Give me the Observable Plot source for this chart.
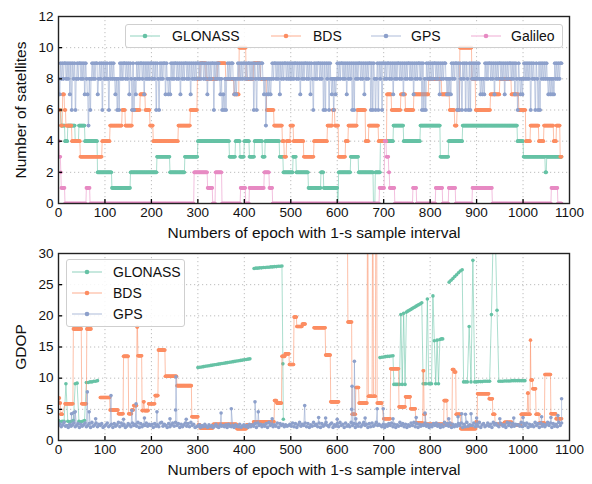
<!DOCTYPE html>
<html><head><meta charset="utf-8">
<script src="https://cdn.jsdelivr.net/npm/d3@7"></script>
<script src="https://cdn.jsdelivr.net/npm/@observablehq/plot@0.6"></script>
<style>
body{margin:0;background:#fff;font-family:"Liberation Sans",Arial,sans-serif;}
#wrap{position:relative;width:592px;height:484px;overflow:hidden;}
#wrap svg{display:block;}
.legend{position:absolute;border:1px solid #cfcfcf;border-radius:3px;background:rgba(255,255,255,0.85);font-size:14px;color:#111;box-sizing:border-box;}
.item{position:absolute;height:18px;line-height:18px;white-space:nowrap;}
.item svg{position:absolute;top:0;}
</style></head><body><div id="wrap"></div>
<script>
// ---------- tick values ----------
const xTicks = [0,100,200,300,400,500,600,700,800,900,1000,1100];
const satTicks = [0,2,4,6,8,10,12];
const gdopTicks = [0,5,10,15,20,25,30];
const systems = ["GLONASS","BDS","GPS","Galileo"];
const colors = ["#66c2a5","#fc8d62","#8da0cb","#e78ac3"];
const lastEpoch = 1083;
const xLabel = "Numbers of epoch with 1-s sample interval";

// ---------- number of satellites: [startEpoch, value] runs ----------
const glonassSat = [[0,6],[6,5],[14,4],[20,5],[36,4],[44,5],[57,4],[84,2],[115,1],[155,2],[212,3],[240,2],[272,3],[300,4],[368,3],[381,4],[391,3],[400,4],[411,3],[422,4],[439,3],[445,4],[476,3],[484,2],[505,3],[512,2],[538,1],[565,2],[571,1],[601,0],[603,2],[629,3],[646,2],[678,0],[682,2],[693,4],[721,5],[743,4],[779,5],[822,3],[840,4],[870,5],[988,4],[1001,3],[1048,2],[1051,3]];
const bdsSat = [[0,6],[5,5],[9,7],[13,6],[16,5],[29,4],[47,3],[94,4],[111,5],[137,6],[144,5],[159,6],[176,7],[187,6],[197,5],[204,4],[258,5],[284,6],[299,8],[305,9],[318,8],[342,9],[360,8],[378,7],[389,10],[404,8],[420,9],[435,8],[448,6],[464,5],[482,4],[486,3],[491,4],[499,5],[506,4],[528,3],[550,4],[579,5],[590,6],[595,5],[603,3],[618,4],[624,5],[643,6],[661,4],[668,5],[689,4],[707,7],[717,6],[737,7],[747,6],[765,7],[797,8],[825,7],[842,6],[853,5],[858,6],[864,10],[890,8],[898,6],[930,7],[950,8],[975,7],[991,6],[1006,4],[1016,5],[1034,4],[1045,5],[1066,4],[1072,5],[1080,3]];
const galileoSat = [[0,4],[2,3],[5,2],[6,1],[14,0],[60,1],[68,0],[292,2],[321,1],[332,0],[338,2],[352,0],[392,1],[403,0],[411,1],[443,2],[454,1],[461,0],[691,1],[702,4],[706,3],[711,2],[713,1],[724,0],[763,1],[771,0],[812,1],[827,0],[840,1],[855,0],[891,1],[934,0],[1061,1],[1075,0]];
// GPS: one digit per 2 epochs (one row = 100 epochs)
const gpsSatCodes =
  "87"+"989899898979"+"69896"+"898998989798"+"75868"+"98989978989698" +
  "98986989898"+"7868"+"6989899898979"+"869687"+"9898998979898989" +
  "9898"+"96986"+"98989979"+"8787"+"98989989897989899898979898989" +
  "98989989897989899"+"6"+"989898"+"78676868"+"989899"+"87878"+"9898989" +
  "9898998989"+"6986"+"989899"+"878578787"+"898998989798989989898" +
  "989899898979898998989798"+"6"+"9898998989"+"696989698"+"786878" +
  "989899898979898"+"96969"+"898998989798989"+"969698689698969" +
  "9898998989"+"7989899898"+"9798989989"+"8979898998"+"9"+"69686"+"9898" +
  "989899898979898998"+"78787"+"989899"+"6969869896986969"+"89898" +
  "9898"+"78787"+"9898998989"+"7989899898"+"9798989989"+"89798"+"6"+"98"+"787" +
  "8"+"9898989"+"6"+"9898"+"6986969"+"898989"+"87878787"+"98989899";

// ---------- GDOP ----------
// GLONASS: [startEpoch, step, values]
const glonassGdop = [
  [0,4,[3.2,3.0,3.1,3.1,9.1,3.1,3.0,3.1,3.2,9.1,9.2,3.1,3.0,3.1,3.2,9.3,9.3,9.4,9.4,9.5,9.5,9.6]],
  [300,4,[11.7,11.75,11.8,11.85,11.9,11.95,12.0,12.05,12.1,12.15,12.2,12.25,12.3,12.35,12.4,12.45,12.5,12.55,12.6,12.65,12.7,12.75,12.8,12.85,12.9,12.95,13.0,13.05,13.1]],
  [421,4,[27.6,27.65,27.65,27.7,27.7,27.75,27.75,27.8,27.8,27.85,27.85,27.9,27.9,27.95,27.95,28.0]],
  [483,1,[12.3,3.4]],
  [692,4,[13.3,13.35,13.4,13.45,13.5,13.5,13.55,13.6]],
  [722,3,[9.0,9.0,9.0,9.0,9.0,20.2,9.0,20.4,9.0,20.6,20.75,20.9,21.0,21.15,21.3,21.4,21.55,21.7,21.8,21.95,22.1,9.1,9.1,9.1,22.7,9.1,9.1,9.1,23.2,16.0,9.1,16.1,9.1,16.2,16.3,16.3]],
  [841,4,[25.4,25.7,26.0,26.3,26.6,26.9,27.2,27.4]],
  [872,4,[9.4,9.4,9.4,18.3,9.4,28.9,9.4,9.4,9.45,9.45,9.45,9.5,9.5,9.5,9.5,20.2,34,34,20.9,9.5,9.5,9.5,9.55,9.55,9.55,9.55,9.6,9.6,9.6,9.6,9.6,9.6,9.6,9.6]]
];
// BDS: [startEpoch, endEpoch (exclusive), value]
const bdsGdop = [[0,3,6.8],[3,5,6.0],[5,9,4.2],[14,32,5.9],[32,50,17.9],[50,61,5.9],[61,71,17.9],[90,111,6.9],[111,129,4.9],[129,140,4.3],[140,151,13.5],[151,158,4.3],[158,162,4.9],[162,169,5.6],[169,171,18.2],[171,180,13.6],[180,183,4.8],[183,185,6.2],[185,194,4.8],[194,208,5.9],[208,215,7.2],[215,230,14.5],[230,255,10.3],[255,287,8.8],[287,301,3.8],[301,305,2.5],[305,333,2.0],[333,384,2.6],[384,405,1.9],[405,420,2.5],[420,465,3.0],[465,470,6.4],[470,481,6.0],[481,488,13.5],[488,497,13.9],[497,507,12.2],[507,513,19.8],[513,525,18.3],[525,532,18.7],[550,575,18.1],[575,586,13.7],[586,604,6.2],[621,623,35],[623,632,19.0],[632,640,4.2],[640,647,8.5],[647,665,6.0],[665,667,35],[667,676,7.1],[676,678,35],[678,683,7.1],[683,686,35],[686,697,6.0],[700,715,3.5],[715,733,11.5],[733,747,5.4],[747,758,7.0],[758,769,5.1],[769,785,2.8],[785,787,11.2],[787,790,4.2],[790,830,2.6],[830,837,6.4],[837,848,2.6],[848,852,11.4],[852,856,11.0],[856,866,4.2],[866,899,1.9],[899,902,3.0],[902,927,7.5],[927,935,6.7],[935,940,4.2],[940,960,2.6],[960,977,2.9],[977,996,2.5],[996,1010,4.2],[1010,1012,7.6],[1012,1016,4.2],[1016,1017,16.1],[1017,1021,9.7],[1021,1028,8.3],[1028,1035,4.2],[1035,1047,2.8],[1047,1060,10.6],[1060,1071,4.3],[1071,1084,3.5]];
// GPS: baseline, one digit per 3 epochs = tenths above 2.0 (one row = 100 epochs), plus spikes
const gpsGdopCodes =
  "472593416358247163582471935826471" + "358246173592846137528463917254836" +
  "461735289364172583947162583729461" + "235142631524136215342516324153261" +
  "352416253718462537194625381746253" + "463827159364827153946281735942681" +
  "537294618352947163825946172835946" + "426153748261539472615384927163548" +
  "361527483615294738162537481629354" + "482639157248361957428635194827365" +
  "539274816352947183625948173629485";
const gpsGdopSpikes = [[28,4.3],[33,4.5],[36,4.6],[62,7.8],[66,4.6],[80,3.5],[113,7.2],[140,3.4],[158,4.8],[167,5.9],[185,3.6],[212,4.6],[240,3.5],[252,4.9],[253,10.2],[275,3.4],[350,4.4],[372,5.1],[423,6.2],[430,4.6],[460,3.5],[530,5.6],[560,3.7],[575,3.6],[600,3.4],[631,5.0],[632,8.7],[637,12.7],[640,3.5],[660,3.6],[686,5.1],[699,5.1],[720,3.5],[770,3.7],[789,4.4],[840,3.5],[860,3.8],[868,4.3],[876,4.2],[888,4.3],[900,3.6],[950,3.5],[980,3.6],[1000,3.7],[1040,3.8],[1060,3.7],[1075,4.0],[1083,6.7]];

// ---------- decoding helpers ----------
function fromRuns(runs){
  const out=[];
  runs.forEach(([s,v],i)=>{
    const e = i+1<runs.length ? runs[i+1][0] : lastEpoch+1;
    for(let t=s;t<e;t++) out.push({e:t,v});
  });
  return out;
}
function fromCodes(str,width){
  const out=[];
  for(let i=0;i<str.length;i++) for(let k=0;k<width;k++){
    const t=i*width+k; if(t<=lastEpoch) out.push({e:t,v:+str[i]});
  }
  return out;
}
function fromSpans(spans){
  const out=[];
  spans.forEach(([s,e,v])=>{for(let t=s;t<e;t++) out.push({e:t,v});});
  return out;
}
function fromLists(lists){
  const out=[];
  lists.forEach(([s,step,vals])=>vals.forEach((v,i)=>out.push({e:s+i*step,v})));
  return out;
}
function fromTenths(str,step,base){
  const out=[];
  for(let i=0;i<str.length;i++){ const t=i*step; if(t<=lastEpoch) out.push({e:t,v:base+(+str[i])/10}); }
  return out;
}
function segment(points,maxGap=6){
  points.sort((a,b)=>a.e-b.e);
  let seg=0;
  points.forEach((p,i)=>{ if(i>0 && p.e-points[i-1].e>maxGap) seg++; p.seg=seg; });
  return points;
}

const satSeries = [
  segment(fromRuns(glonassSat)),
  segment(fromRuns(bdsSat)),
  segment(fromCodes(gpsSatCodes,2)),
  segment(fromRuns(galileoSat))
];
const gpsGdopPts = fromTenths(gpsGdopCodes,3,2.0).concat(gpsGdopSpikes.map(([e,v])=>({e,v})));
const gdopSeries = [
  segment(fromLists(glonassGdop)),
  segment(fromSpans(bdsGdop)),
  segment(gpsGdopPts)
];

// ---------- panel ----------
function panel({height, marginTop, marginBottom, yDomain, yTicks, series, ylabel}){
  const W=592, mL=58, mR=23;
  const innerH = height-marginTop-marginBottom, innerW = W-mL-mR;
  const marks = [
    Plot.gridX(xTicks,{stroke:"#b5b5b5",strokeOpacity:1,strokeDasharray:"1.2,2.8",strokeWidth:0.9}),
    Plot.gridY(yTicks,{stroke:"#b5b5b5",strokeOpacity:1,strokeDasharray:"1.2,2.8",strokeWidth:0.9})
  ];
  series.forEach((pts,i)=>{
    marks.push(Plot.line(pts,{x:"e",y:"v",z:"seg",stroke:colors[i],strokeWidth:1,strokeOpacity:0.55,clip:true}));
    marks.push(Plot.dot(pts,{x:"e",y:"v",r:1.8,fill:colors[i],stroke:null,clip:true}));
  });
  marks.push(
    Plot.ruleX(xTicks.slice(1,-1),{x:d=>d,insetTop:innerH-4,stroke:"#000",strokeWidth:1.3}),
    Plot.ruleY(yTicks.slice(1,-1),{y:d=>d,insetRight:innerW-4,stroke:"#000",strokeWidth:1.3}),
    Plot.frame({stroke:"#222",strokeWidth:1.4}),
    Plot.axisX(xTicks,{tickSize:0,tickPadding:4,label:null,fontSize:13.5,tickFormat:d=>String(d)}),
    Plot.axisY(yTicks,{tickSize:0,tickPadding:5,label:null,fontSize:13.5,tickFormat:d=>String(d)}),
    Plot.text([xLabel],{text:d=>d,frameAnchor:"bottom",dy:34,fontSize:15.5,textAnchor:"middle"}),
    Plot.text([ylabel],{text:d=>d,frameAnchor:"left",dx:-37,rotate:-90,fontSize:15.5,textAnchor:"middle"})
  );
  return Plot.plot({
    width:W, height, marginLeft:mL, marginRight:mR, marginTop, marginBottom,
    x:{domain:[0,1100]}, y:{domain:yDomain},
    style:{fontFamily:"'Liberation Sans', Arial, sans-serif",color:"#111",background:"transparent",overflow:"visible"},
    marks
  });
}

const wrap = document.getElementById("wrap");
wrap.appendChild(panel({height:242,marginTop:16,marginBottom:39,yDomain:[0,12],yTicks:satTicks,series:satSeries,ylabel:"Number of satellites"}));
wrap.appendChild(panel({height:242,marginTop:11,marginBottom:44,yDomain:[0,30],yTicks:gdopTicks,series:gdopSeries,ylabel:"GDOP"}));

// ---------- legends (HTML overlays) ----------
function swatch(color){
  return `<svg width="30" height="18"><line x1="0" x2="30" y1="9" y2="9" stroke="${color}" stroke-opacity="0.6" stroke-width="1.2"/><circle cx="15" cy="9" r="2.3" fill="${color}"/></svg>`;
}
function legend(box, items){
  const d=document.createElement("div");
  d.className="legend";
  Object.assign(d.style,{left:box.left+"px",top:box.top+"px",width:box.w+"px",height:box.h+"px"});
  items.forEach(it=>{
    const s=document.createElement("div");
    s.className="item";
    s.style.left=it.sx+"px"; s.style.top=it.y+"px";
    s.innerHTML = swatch(it.color) + `<span style="position:absolute;left:${it.tx-it.sx}px">${it.name}</span>`;
    d.appendChild(s);
  });
  wrap.appendChild(d);
}
legend({left:125,top:24,w:438,h:24},[
  {name:systems[0],color:colors[0],sx:4,tx:46,y:2},
  {name:systems[1],color:colors[1],sx:145,tx:187,y:2},
  {name:systems[2],color:colors[2],sx:245,tx:285,y:2},
  {name:systems[3],color:colors[3],sx:345,tx:385,y:2}
]);
legend({left:66,top:259,w:119,h:68},[
  {name:systems[0],color:colors[0],sx:5,tx:46,y:3},
  {name:systems[1],color:colors[1],sx:5,tx:46,y:24},
  {name:systems[2],color:colors[2],sx:5,tx:46,y:45}
]);
</script></body></html>
